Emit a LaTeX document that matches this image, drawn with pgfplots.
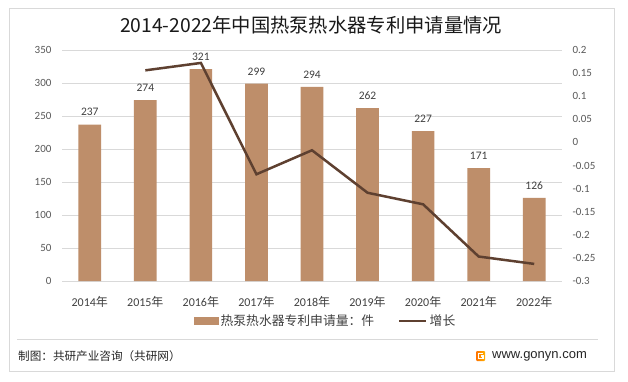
\documentclass[border=0pt]{standalone}
\usepackage{pgfplots}
\pgfplotsset{compat=1.18}
\usepackage{fontspec}
\setmainfont{Carlito}
\newfontfamily\cjk{Noto Sans CJK SC}
\newfontfamily\arial{Liberation Sans}
\definecolor{barc}{HTML}{BE8E6A}
\definecolor{linec}{HTML}{5E4030}
\definecolor{tickc}{HTML}{595959}
\definecolor{labc}{HTML}{404040}
\definecolor{gridc}{HTML}{D9D9D9}
\pgfplotsset{
  barleg/.style={legend image code/.code={\fill[##1] (0pt,-4pt) rectangle (25pt,4pt);}},
  lineleg/.style={legend image code/.code={\draw[##1] (0pt,0pt) -- (27pt,0pt);}},
  base/.style={at={(62pt,100pt)}, anchor=south west,
    scale only axis, width=500pt, height=231pt, xmin=-0.5, xmax=8.5,
    /pgf/number format/assume math mode=true},
}
\begin{document}
\begin{tikzpicture}
\fill[white] (0,0) rectangle (628pt,381pt);
\draw[gridc, line width=1pt] (9pt,10pt) rectangle (614pt,372pt);
\draw[gridc, line width=0.8pt] (17pt,42pt) -- (598pt,42pt);
\node[anchor=west, inner sep=0pt, font=\cjk\fontsize{11.6}{11.6}\selectfont, text=black!85] at (18pt,25pt) {制图：共研产业咨询（共研网）};
\node[anchor=west, inner sep=0pt, font=\arial\fontsize{13}{13}\selectfont, text=black!85] at (492pt,25pt) {www.gonyn.com};
\shade[left color=orange!90!red, right color=orange!60!yellow, rounded corners=1pt] (476pt,20pt) rectangle (485pt,30pt);
\draw[white, line width=1.2pt] (483pt,27.5pt) -- (478.5pt,27.5pt) -- (478.5pt,22.5pt) -- (483pt,22.5pt) -- (483pt,25pt) -- (481pt,25pt);
\node[font=\cjk\fontsize{19.3}{19.3}\selectfont, text=black!90] at (311pt,356pt) {2014-2022年中国热泵热水器专利申请量情况};

\begin{axis}[
  base, ymin=0, ymax=350,
  xtick={0,...,8},
  xticklabels={{2014{\cjk 年}},{2015{\cjk 年}},{2016{\cjk 年}},{2017{\cjk 年}},{2018{\cjk 年}},{2019{\cjk 年}},{2020{\cjk 年}},{2021{\cjk 年}},{2022{\cjk 年}}},
  ytick={0,50,...,350},
  axis line style={draw=none},
  tick style={draw=none},
  ymajorgrids, grid style={gridc, line width=0.8pt},
  yticklabel style={font=\fontsize{11}{11}\selectfont, text=tickc, xshift=-7pt},
  xticklabel style={font=\fontsize{12}{12}\selectfont, text=labc, yshift=-8pt},
  ybar, bar width=22.7pt,
]
\addplot[fill=barc, draw=none] coordinates {(0,237) (1,274) (2,321) (3,299) (4,294) (5,262) (6,227) (7,171) (8,126)};
\end{axis}

\begin{axis}[
  base, ymin=-0.3, ymax=0.2,
  axis x line=none, axis y line*=right,
  axis line style={draw=none},
  tick style={draw=none},
  xtick=\empty,
  ytick={-0.3,-0.25,-0.2,-0.15,-0.1,-0.05,0,0.05,0.1,0.15,0.2},
  yticklabels={-0.3,-0.25,-0.2,-0.15,-0.1,-0.05,0,0.05,0.1,0.15,0.2},
  yticklabel style={font=\fontsize{11}{11}\selectfont, text=tickc, xshift=7pt},
  legend style={at={(0.527,-0.173)}, anchor=center, draw=none, fill=none,
    legend columns=2, font=\cjk\fontsize{12.8}{12.8}\selectfont, text=labc,
    /tikz/every even column/.append style={column sep=22pt},
    legend cell align=left},
]
\addlegendimage{fill=barc, draw=none, barleg}
\addlegendentry{热泵热水器专利申请量：件}
\addplot[linec, line width=2.5pt, mark=none, lineleg] coordinates {(1,0.156) (2,0.172) (3,-0.069) (4,-0.017) (5,-0.109) (6,-0.134) (7,-0.247) (8,-0.263)};
\addlegendentry{增长}
\end{axis}

\begin{axis}[
  base, ymin=0, ymax=350, hide axis,
  ybar, bar width=22.7pt,
  nodes near coords,
  every node near coord/.append style={font=\fontsize{11.5}{11.5}\selectfont, text=labc, yshift=5pt},
]
\addplot[fill=none, draw=none] coordinates {(0,237) (1,274) (2,321) (3,299) (4,294) (5,262) (6,227) (7,171) (8,126)};
\end{axis}
\end{tikzpicture}
\end{document}
